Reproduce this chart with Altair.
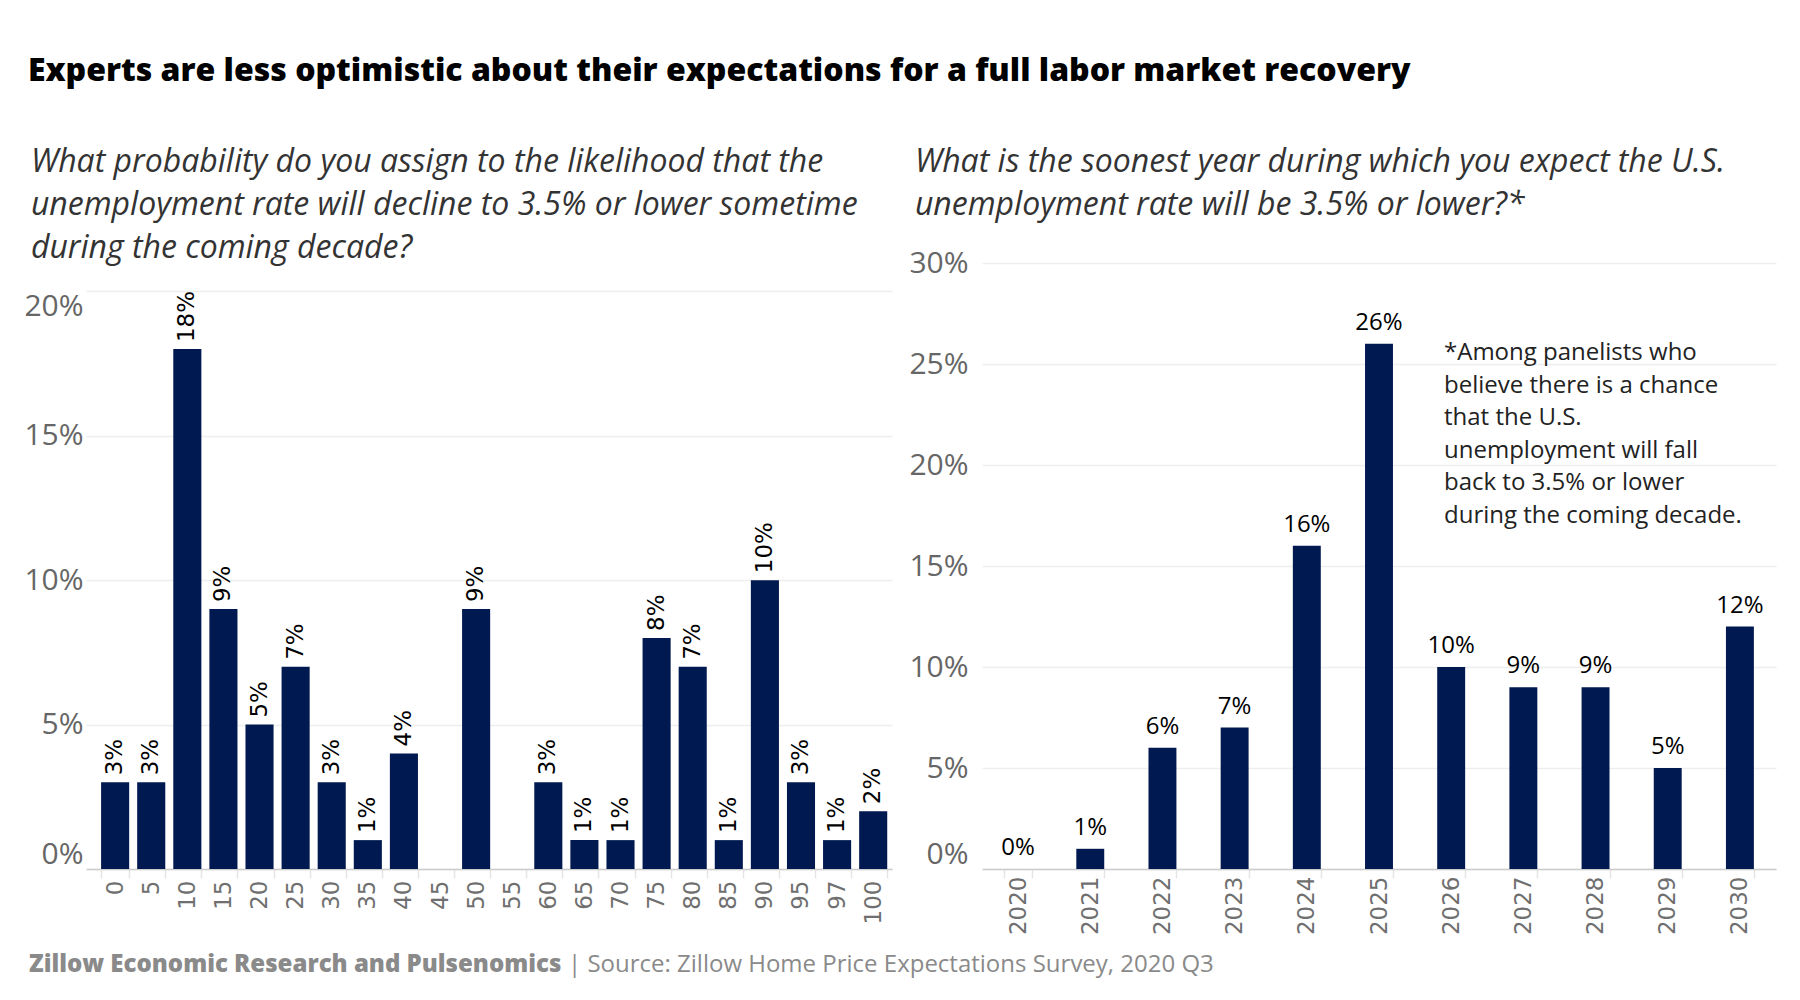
import altair as alt
import pandas as pd

# ---------------- data ----------------
left_cats = ["0", "5", "10", "15", "20", "25", "30", "35", "40", "45", "50",
             "55", "60", "65", "70", "75", "80", "85", "90", "95", "97", "100"]
left_vals = [3, 3, 18, 9, 5, 7, 3, 1, 4, 0, 9, 0, 3, 1, 1, 8, 7, 1, 10, 3, 1, 2]

right_years = ["2020", "2021", "2022", "2023", "2024", "2025", "2026",
               "2027", "2028", "2029", "2030"]
right_vals = [0, 1, 6, 7, 16, 26, 10, 9, 9, 5, 12]

left_ticks = [0, 0.05, 0.10, 0.15, 0.20]
right_ticks = [0, 0.05, 0.10, 0.15, 0.20, 0.25, 0.30]

title_text = "Experts are less optimistic about their expectations for a full labor market recovery"
left_q = ["What probability do you assign to the likelihood that the",
          "unemployment rate will decline to 3.5% or lower sometime",
          "during the coming decade?"]
right_q = ["What is the soonest year during which you expect the U.S.",
           "unemployment rate will be 3.5% or lower?*", " "]
note_lines = ["*Among panelists who", "believe there is a chance",
              "that the U.S.", "unemployment will fall",
              "back to 3.5% or lower", "during the coming decade."]
footer_bold = "Zillow Economic Research and Pulsenomics"
footer_rest = "| Source: Zillow Home Price Expectations Survey, 2020 Q3"

# ---------------- style ----------------
NAVY = "#001950"
H = 606
LW = 806
RW = 794
SANS = "Open Sans"

ldf = pd.DataFrame({"cat": left_cats, "val": [v / 100 for v in left_vals]})
rdf = pd.DataFrame({"year": right_years, "val": [v / 100 for v in right_vals]})
one = pd.DataFrame({"k": [0]})

sub_title = dict(anchor="start", font=SANS, fontSize=32, fontStyle="italic",
                 fontWeight="normal", color="#333333", lineHeight=43,
                 frame="bounds")

# ---------------- left panel ----------------
lx = alt.X("cat:N", sort=left_cats,
           scale=alt.Scale(paddingInner=0.222, paddingOuter=0.275, align=0.76),
           axis=alt.Axis(title=None, labelAngle=-90, labelFont="DejaVu Sans",
                         labelFontSize=23, labelColor="#6f6f6f", tickBand="extent",
                         tickColor="#e6e6e6", tickSize=9, tickWidth=1.5,
                         domainColor="#cccccc", domainWidth=1.5, labelPadding=2))
ly = alt.Y("val:Q", scale=alt.Scale(domain=[0, 0.2098], nice=False, zero=True),
           axis=alt.Axis(title=None, values=left_ticks, format=".0%", labelFont=SANS,
                         labelFontSize=30, labelColor="#666666", ticks=False,
                         domain=False, gridColor="#eeeeee", gridWidth=1.5,
                         labelPadding=3,
                         labelBaseline={"condition": [
                             {"test": "datum.value == 0", "value": "bottom"},
                             {"test": "datum.value > 0.19", "value": "top"}],
                             "value": "middle"}))

lbase = alt.Chart(ldf)
lbars = lbase.mark_bar(color=NAVY).encode(x=lx, y=ly)
ltext = lbase.transform_filter("datum.val > 0").mark_text(
    angle=270, align="left", baseline="middle", dx=7, font="DejaVu Sans",
    fontSize=23, color="#000000").encode(
    x=alt.X("cat:N", sort=left_cats), y="val:Q",
    text=alt.Text("val:Q", format=".0%"))

foot1 = alt.Chart(one).mark_text(
    text=footer_bold, align="left", baseline="middle", font=SANS,
    fontWeight=800, fontSize=24, color="#8a8a8a").encode(
    x=alt.value(-57), y=alt.value(702))
foot2 = alt.Chart(one).mark_text(
    text=footer_rest, align="left", baseline="middle", font=SANS,
    fontSize=24, color="#8a8a8a").encode(
    x=alt.value(482), y=alt.value(702))

left = alt.layer(lbars, ltext, foot1, foot2).properties(
    width=LW, height=H,
    title=alt.TitleParams(left_q, offset=-2, dx=7, **sub_title))

# ---------------- right panel ----------------
rx = alt.X("year:N", sort=right_years,
           scale=alt.Scale(paddingInner=0.613, paddingOuter=0.3065),
           axis=alt.Axis(title=None, labelAngle=-90, labelFont="DejaVu Sans",
                         labelFontSize=23, labelColor="#6f6f6f", tickBand="extent",
                         tickColor="#e6e6e6", tickSize=9, tickWidth=1.5,
                         domainColor="#cccccc", domainWidth=1.5, labelPadding=-2))
ry = alt.Y("val:Q", scale=alt.Scale(domain=[0, 0.30], nice=False),
           axis=alt.Axis(title=None, values=right_ticks, format=".0%", labelFont=SANS,
                         labelFontSize=30, labelColor="#666666", ticks=False,
                         domain=False, gridColor="#eeeeee", gridWidth=1.5,
                         labelPadding=14,
                         labelBaseline={"condition": [
                             {"test": "datum.value == 0", "value": "bottom"}],
                             "value": "middle"}))

rbase = alt.Chart(rdf)
rbars = rbase.mark_bar(color=NAVY).encode(x=rx, y=ry)
rtext = rbase.mark_text(baseline="alphabetic", dy=-14, font=SANS, fontSize=24,
                        color="#000000").encode(
    x=alt.X("year:N", sort=right_years), y="val:Q",
    text=alt.Text("val:Q", format=".0%"))
note = alt.Chart(one).mark_text(
    text=note_lines, align="left", baseline="top", font=SANS, fontSize=24,
    lineHeight=32.6, color="#222222").encode(x=alt.value(462), y=alt.value(78))

right = alt.layer(rbars, rtext, note).properties(
    width=RW, height=H,
    title=alt.TitleParams(right_q, offset=-17, dx=6, **sub_title))

chart = alt.hconcat(left, right, spacing=90, bounds="flush").properties(
    title=alt.TitleParams(title_text, anchor="start", font=SANS, fontSize=32,
                          fontWeight=800, color="#000000", offset=58, dx=4),
    padding={"left": 15, "top": 47, "right": 10, "bottom": 10},
).configure_view(stroke=None)

chart.save("out.html", embed_options={"renderer": "svg", "actions": False})
